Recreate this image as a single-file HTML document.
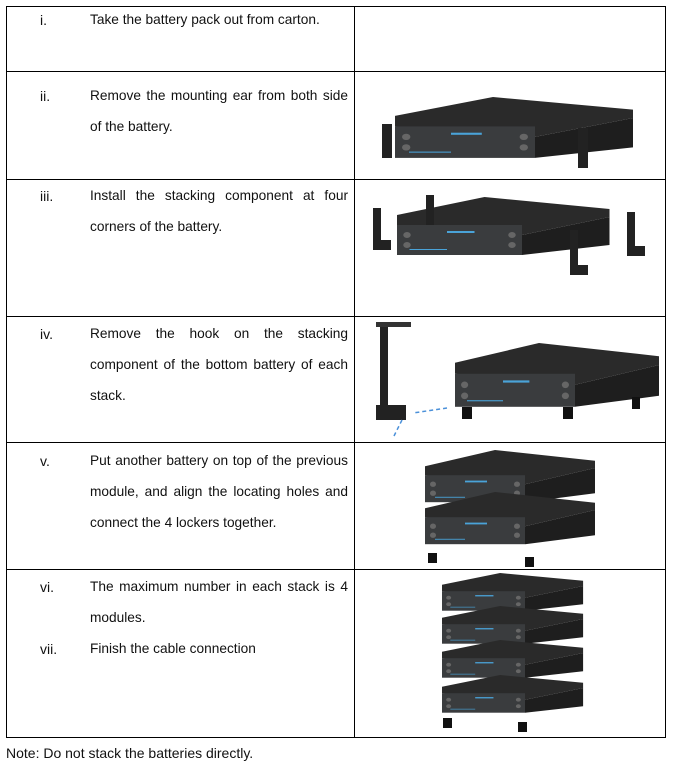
<!DOCTYPE html>
<html><head><meta charset="utf-8"><style>
body{margin:0;width:684px;height:767px;background:#fff;position:relative;font-family:"Liberation Sans",Arial,sans-serif;font-size:14px;color:#111;overflow:hidden}
.l{position:absolute;background:#000}
.n{position:absolute;left:40px}
.t{position:absolute;left:90px;width:258px;line-height:31px;text-align:justify;text-align-last:left;font-size:13.7px}
svg{position:absolute;left:0;top:0}
</style></head><body>
<div class="l" style="left:6px;top:6px;width:660px;height:1px"></div>
<div class="l" style="left:6px;top:71px;width:660px;height:1px"></div>
<div class="l" style="left:6px;top:179px;width:660px;height:1px"></div>
<div class="l" style="left:6px;top:316px;width:660px;height:1px"></div>
<div class="l" style="left:6px;top:442px;width:660px;height:1px"></div>
<div class="l" style="left:6px;top:569px;width:660px;height:1px"></div>
<div class="l" style="left:6px;top:737px;width:660px;height:1px"></div>
<div class="l" style="left:6px;top:6px;width:1px;height:732px"></div>
<div class="l" style="left:354px;top:6px;width:1px;height:732px"></div>
<div class="l" style="left:665px;top:6px;width:1px;height:732px"></div>

<div class="n" style="top:12px">i.</div><div class="t" style="top:4px">Take the battery pack out from carton.</div>
<div class="n" style="top:88px">ii.</div><div class="t" style="top:80px">Remove the mounting ear from both side of the battery.</div>
<div class="n" style="top:188px">iii.</div><div class="t" style="top:180px">Install the stacking component at four corners of the battery.</div>
<div class="n" style="top:326px">iv.</div><div class="t" style="top:318px">Remove the hook on the stacking component of the bottom battery of each stack.</div>
<div class="n" style="top:453px">v.</div><div class="t" style="top:445px">Put another battery on top of the previous module, and align the locating holes and connect the 4 lockers together.</div>
<div class="n" style="top:579px">vi.</div><div class="t" style="top:571px">The maximum number in each stack is 4 modules.</div>
<div class="n" style="top:641px">vii.</div><div class="t" style="top:633px">Finish the cable connection</div>
<div style="position:absolute;left:6px;top:745px">Note: Do not stack the batteries directly.</div>

<svg width="684" height="767">
<defs>
<g id="bat">
<polygon points="0,18 70,0 170,12 170,20 100,38 0,28" fill="#2a2a2a"/>
<rect x="0" y="28" width="100" height="30" fill="#3a3c3e"/>
<polygon points="100,38 170,20 170,48 100,58" fill="#1e1e1e"/>
<circle cx="8" cy="38" r="3" fill="#666"/><circle cx="8" cy="48" r="3" fill="#666"/>
<circle cx="92" cy="38" r="3" fill="#666"/><circle cx="92" cy="48" r="3" fill="#666"/>
<rect x="40" y="34" width="22" height="2" fill="#4aa3d8"/><rect x="10" y="52" width="30" height="1" fill="#4aa3d8"/>
</g>
</defs>
<g transform="translate(395,97) scale(1.4,1.05)"><use href="#bat"/></g>
<rect x="382" y="124" width="10" height="34" fill="#222"/><rect x="578" y="128" width="10" height="40" fill="#222"/>
<g transform="translate(397,197) scale(1.25,1.0)"><use href="#bat"/></g>
<rect x="373" y="208" width="8" height="40" fill="#222"/><rect x="373" y="240" width="18" height="10" fill="#222"/>
<rect x="570" y="230" width="8" height="40" fill="#222"/><rect x="570" y="265" width="18" height="10" fill="#222"/>
<rect x="627" y="212" width="8" height="40" fill="#222"/><rect x="627" y="246" width="18" height="10" fill="#222"/>
<rect x="426" y="195" width="8" height="30" fill="#222"/>
<rect x="380" y="325" width="8" height="95" fill="#222"/><rect x="376" y="322" width="35" height="5" fill="#333"/>
<rect x="376" y="405" width="30" height="15" fill="#222"/>
<line x1="447" y1="408" x2="413" y2="413" stroke="#4a90d9" stroke-dasharray="4,3" stroke-width="1.5"/>
<line x1="402" y1="420" x2="394" y2="436" stroke="#4a90d9" stroke-dasharray="4,3" stroke-width="1.5"/>
<g transform="translate(455,343) scale(1.2,1.1)"><use href="#bat"/></g>
<rect x="462" y="407" width="10" height="12" fill="#111"/><rect x="563" y="407" width="10" height="12" fill="#111"/><rect x="632" y="397" width="8" height="12" fill="#111"/>
<g transform="translate(425,450) scale(1.0,0.9)"><use href="#bat"/></g>
<g transform="translate(425,492) scale(1.0,0.9)"><use href="#bat"/></g>
<rect x="428" y="553" width="9" height="10" fill="#111"/><rect x="525" y="557" width="9" height="10" fill="#111"/>
<g transform="translate(442,573) scale(0.83,0.65)"><use href="#bat"/></g>
<g transform="translate(442,606) scale(0.83,0.65)"><use href="#bat"/></g>
<g transform="translate(442,640) scale(0.83,0.65)"><use href="#bat"/></g>
<g transform="translate(442,675) scale(0.83,0.65)"><use href="#bat"/></g>
<rect x="443" y="718" width="9" height="10" fill="#111"/><rect x="518" y="722" width="9" height="10" fill="#111"/>
</svg>
</body></html>
